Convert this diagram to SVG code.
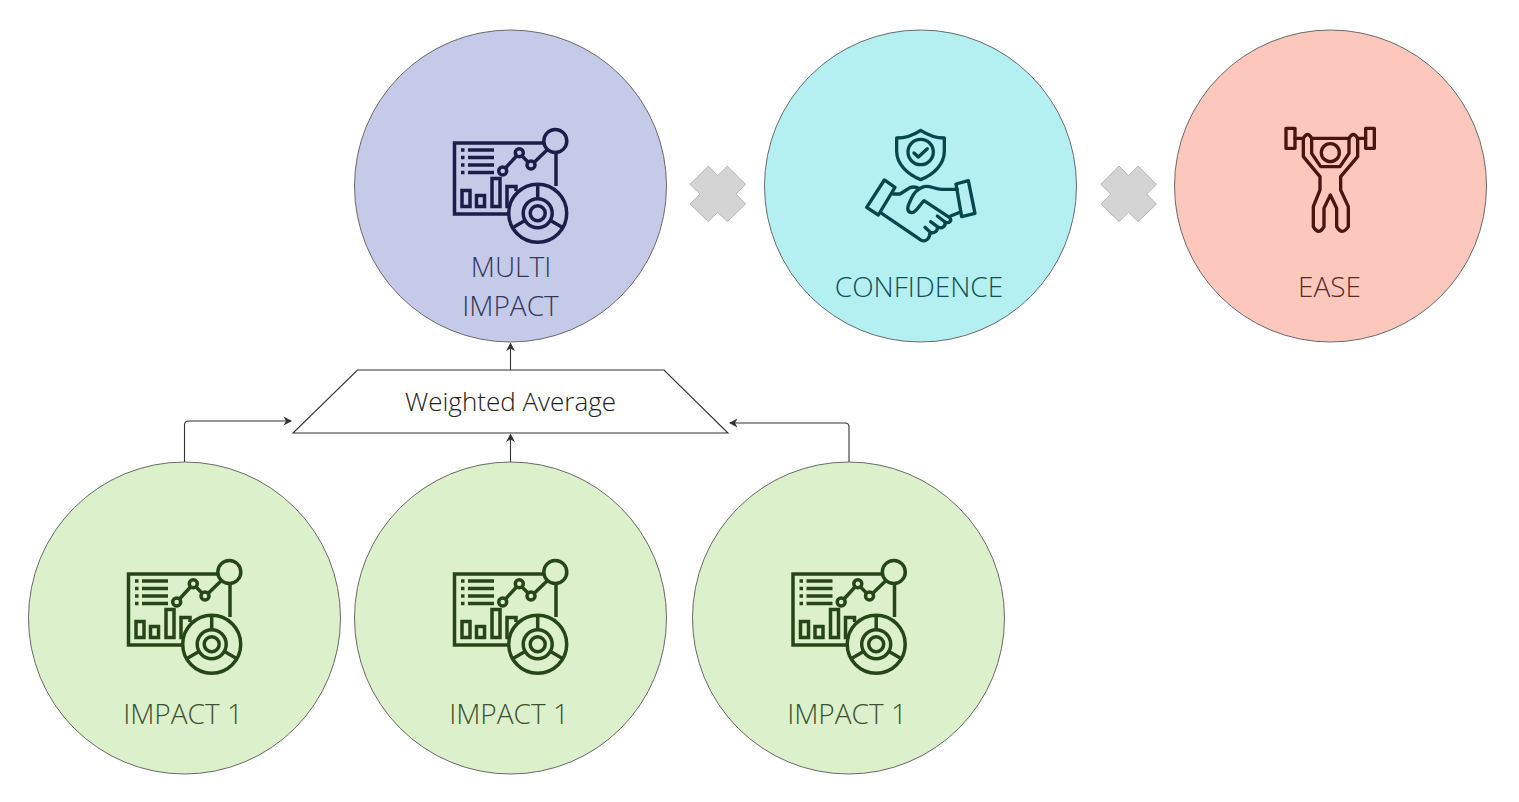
<svg xmlns="http://www.w3.org/2000/svg" width="1519" height="802" viewBox="0 0 1519 802">
<style>
.c{stroke:#6a6a6a;stroke-width:1}
.t{font-family:"Open Sans","Noto Sans","Liberation Sans",sans-serif;font-weight:300;font-size:28px;text-anchor:middle}
.i{fill:none;stroke-width:3.5;stroke-linejoin:miter}
.z{fill:none;stroke-width:10;stroke-linejoin:round;stroke-linecap:round}
.g .c{fill:#dcf0cb}
.g .t{fill:#3d5230}
.g .i{stroke:#274618}
.x{fill:#d4d4d4;stroke:#868686;stroke-width:1.5}
.l{fill:none;stroke:#333;stroke-width:1.1}
</style>
<defs>
<marker id="a" markerUnits="userSpaceOnUse" markerWidth="12" markerHeight="12" refX="8" refY="6" orient="auto"><path d="M0.500,1.500 L9,6 L0.500,10.500 L3,6 Z" fill="#333"/></marker>
<g id="chart">
<path d="M509,214 H454.500 V143 H543 M556,153 V186"/>
<path d="M461,150 H464.500 M468,150 H494 M461,157.500 H464.500 M468,157.500 H494 M461,165 H464.500 M468,165 H494 M461,172.500 H464.500 M468,172.500 H494"/>
<rect x="462" y="190.500" width="8" height="16"/>
<rect x="476.500" y="195.500" width="8" height="11"/>
<rect x="492" y="178.500" width="8" height="28"/>
<path d="M511,206.500 H507 V186.500 H516 V191"/>
<circle cx="502.700" cy="171" r="4"/>
<circle cx="519.300" cy="152.700" r="4"/>
<circle cx="531" cy="165" r="4"/>
<circle cx="555.300" cy="141" r="11.500"/>
<path d="M505.500,168 L516.500,156 M522,156 L528,162 M534,162.500 L547,150"/>
<circle cx="537.700" cy="213.300" r="29"/>
<circle cx="537.700" cy="213.300" r="14.500"/>
<circle cx="537.700" cy="213.300" r="7.500"/>
<path d="M537.700,185 V199 M513,227.500 L525,220.500 M562.500,227.500 L550.500,220.500"/>
</g>
</defs>

<g id="connectors">
<path class="l" d="M510.500,370 V343.500" marker-end="url(#a)"/>
<path class="l" d="M510.500,462 V434.500" marker-end="url(#a)"/>
<path class="l" d="M184.500,462 V425 Q184.500,421 188.500,421 H291" marker-end="url(#a)"/>
<path class="l" d="M849,462 V427 Q849,423 845,423 H730" marker-end="url(#a)"/>
</g>

<g id="node-multi-impact">
<circle class="c" cx="510.500" cy="186" r="156" fill="#c5cae9"/>
<use href="#chart" class="i" stroke="#1a1f4a"/>
<text class="t" x="511" y="276.500" fill="#33385c">MULTI</text>
<text class="t" x="510.500" y="315.500" fill="#33385c">IMPACT</text>
</g>

<g id="op-times-1"><polygon class="x" transform="translate(680,155) scale(.3333)" points="85,33 113,62 142,33 197,88 168,117 197,147 142,200 113,172 85,200 30,147 60,117 30,88"/></g>

<g id="node-confidence">
<circle class="c" cx="920.500" cy="186" r="156" fill="#b4f0f2"/>
<g class="z" stroke="#06474c" transform="translate(850,110) scale(.3333)">
<g transform="translate(0,4)">
<path d="M212,57 C190,72 165,80 140,80 L140,120 C140,160 175,190 212,205 C250,190 283,160 283,120 L283,80 C258,80 235,72 212,57 Z"/>
<circle cx="212" cy="122" r="38"/>
<path d="M192,125 L205,137 L232,112"/>
</g>
<path d="M103,210 L135,232 L85,315 L50,292 Z"/>
<path d="M318,222 L355,212 L375,310 L335,320 Z"/>
<path d="M130,252 L150,252 L180,233 Q195,228 208,236"/>
<path d="M322,238 L275,238 C255,238 240,226 222,230 C205,235 190,250 182,270 C172,290 168,305 185,308 C198,308 205,290 222,272 L298,322 C308,332 298,342 285,336"/>
<path d="M332,306 L302,318"/>
<path d="M285,336 L262,318 M285,336 C288,350 275,358 262,350 L242,335 M262,350 C265,365 250,372 240,366 L225,352 M240,366 C240,385 228,398 212,390 L95,310"/>
</g>
<text class="t" x="919" y="296.500" fill="#134f53">CONFIDENCE</text>
</g>

<g id="op-times-2"><polygon class="x" transform="translate(1090.800,155) scale(.3333)" points="85,33 113,62 142,33 197,88 168,117 197,147 142,200 113,172 85,200 30,147 60,117 30,88"/></g>

<g id="node-ease">
<circle class="c" cx="1330.500" cy="186" r="156" fill="#fcc8be"/>
<g class="z" stroke="#4a1410" transform="translate(1270,110) scale(.3333)">
<rect x="48" y="55" width="27" height="60"/>
<rect x="287" y="55" width="26" height="60"/>
<path d="M75,85 H100 M125,85 H237 M263,85 H287"/>
<circle cx="181" cy="128" r="27"/>
<path d="M100,85 Q113,62 125,85 L125,130 L152,170 H210 L237,130 L237,85 Q250,62 263,85 L263,140 L212,200 L212,240 L235,290 L235,350 Q216,378 200,350 L200,295 L181,255 L162,295 L162,350 Q146,378 130,350 L130,290 L150,240 L150,200 L100,140 Z"/>
</g>
<text class="t" x="1329.500" y="296.500" fill="#5e2a26">EASE</text>
</g>

<g id="node-weighted-average">
<polygon points="357.500,370 664,370 728,433 293,433" fill="#fff" stroke="#333" stroke-width="1.100"/>
<text class="t" x="510.500" y="411" fill="#222" style="font-size:26px">Weighted Average</text>
</g>

<g id="node-impact-a" class="g">
<circle class="c" cx="184.500" cy="618" r="156"/>
<use href="#chart" class="i" transform="translate(-326,431)"/>
<text class="t" x="183" y="723.500">IMPACT 1</text>
</g>
<g id="node-impact-b" class="g">
<circle class="c" cx="510.500" cy="618" r="156"/>
<use href="#chart" class="i" transform="translate(0,431)"/>
<text class="t" x="509" y="723.500">IMPACT 1</text>
</g>
<g id="node-impact-c" class="g">
<circle class="c" cx="848.500" cy="618" r="156"/>
<use href="#chart" class="i" transform="translate(338.500,431)"/>
<text class="t" x="847" y="723.500">IMPACT 1</text>
</g>
</svg>
